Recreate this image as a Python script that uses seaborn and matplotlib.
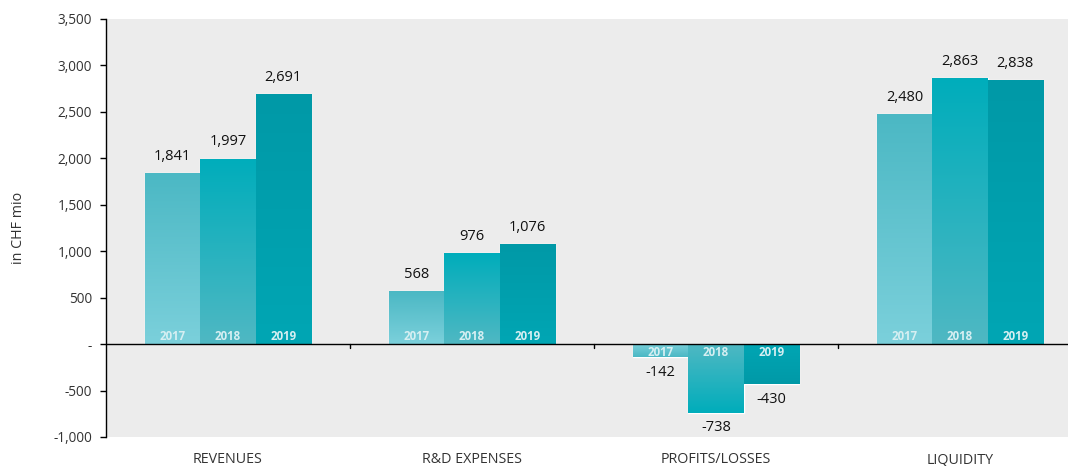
import numpy as np
import pandas as pd
import matplotlib
matplotlib.use("Agg")
import matplotlib.pyplot as plt
import matplotlib.colors as mcolors
import seaborn as sns

categories = ["REVENUES", "R&D EXPENSES", "PROFITS/LOSSES", "LIQUIDITY"]
years = ["2017", "2018", "2019"]
v2017 = [1841, 568, -142, 2480]
v2018 = [1997, 976, -738, 2863]
v2019 = [2691, 1076, -430, 2838]
yticks = [-1000, -500, 0, 500, 1000, 1500, 2000, 2500, 3000, 3500]

# (color at zero line, color at bar tip)
grad = {"2017": ("#7bd0db", "#4bb8c4"),
        "2018": ("#4fb8c3", "#00adbb"),
        "2019": ("#00a6b4", "#0099a7")}

rows = []
for yr, vals in zip(years, [v2017, v2018, v2019]):
    for c, v in zip(categories, vals):
        rows.append({"category": c, "year": yr, "value": v})
df = pd.DataFrame(rows)

sns.set_theme(style="white")
plt.rcParams["font.family"] = ["Open Sans", "DejaVu Sans"]

fig = plt.figure(figsize=(10.68, 4.66), dpi=100)
ax = fig.add_axes([106 / 1068, 29 / 466, 962 / 1068, 418 / 466])
ax.set_facecolor("#ececec")

palette = {yr: grad[yr][1] for yr in years}
sns.barplot(data=df, x="category", y="value", hue="year", order=categories,
            hue_order=years, palette=palette, width=0.68, ax=ax,
            edgecolor="white", linewidth=1.0, legend=False, errorbar=None)

ax.set_xlim(-0.5, 3.5 - 14 / 244)
ax.set_ylim(-1000, 3500)

for container, yr in zip(ax.containers, years):
    c0 = np.array(mcolors.to_rgb(grad[yr][0]))
    c1 = np.array(mcolors.to_rgb(grad[yr][1]))
    for patch in container:
        x = patch.get_x()
        w = patch.get_width()
        h = patch.get_height()
        y0 = patch.get_y()
        t = np.linspace(0, 1, 100)[:, None]
        cols = c0[None, :] * (1 - t) + c1[None, :] * t
        img = cols[:, None, :]
        if h >= 0:
            im = ax.imshow(img, extent=(x, x + w, y0, y0 + h), origin="lower",
                           aspect="auto", zorder=2.5, interpolation="bilinear")
        else:
            im = ax.imshow(img, extent=(x, x + w, y0 + h, y0), origin="upper",
                           aspect="auto", zorder=2.5, interpolation="bilinear")
        im.set_clip_path(patch)
        patch.set_zorder(2)
        top = y0 + h
        cx = x + w / 2
        val = int(round(top))
        txt = f"{val:,}"
        if val >= 0:
            ax.annotate(txt, (cx, val), xytext=(0, 12), textcoords="offset points",
                        ha="center", va="center", fontsize=10.5, color="#111111", zorder=4)
            ax.annotate(yr, (cx, 0), xytext=(0, 5.5), textcoords="offset points",
                        ha="center", va="center", fontsize=8.3, fontweight="bold",
                        color="#d6eff2", zorder=4)
        else:
            ax.annotate(txt, (cx, val), xytext=(0, -11), textcoords="offset points",
                        ha="center", va="center", fontsize=10.5, color="#111111", zorder=4)
            ax.annotate(yr, (cx, 0), xytext=(0, -6), textcoords="offset points",
                        ha="center", va="center", fontsize=8.3, fontweight="bold",
                        color="#d6eff2", zorder=4)

ax.set_xlim(-0.5, 3.5 - 14 / 244)
ax.set_ylim(-1000, 3500)

ax.axhline(0, color="black", linewidth=1.0, zorder=3)
for b in [0.5, 1.5, 2.5]:
    ax.plot([b, b], [0, -45], color="black", linewidth=1.0, zorder=3)

for s in ["top", "right", "bottom"]:
    ax.spines[s].set_visible(False)
ax.spines["left"].set_color("black")
ax.spines["left"].set_linewidth(1.0)

ax.set_yticks(yticks)
ax.set_yticklabels(["-" if v == 0 else f"{v:,}" for v in yticks],
                   fontsize=9.8, color="#333333")
ax.tick_params(axis="y", which="major", left=True, length=4, width=1, color="black", pad=6)
ax.tick_params(axis="x", bottom=False, pad=5, labelsize=10.3, labelcolor="#333333")
ax.set_xlabel("")
ax.set_ylabel("in CHF mio", fontsize=10.3, color="#333333")
ax.yaxis.label.set_va("center")
ax.yaxis.set_label_coords(-88 / 962, 0.5)

fig.savefig("out.png", dpi=100)
